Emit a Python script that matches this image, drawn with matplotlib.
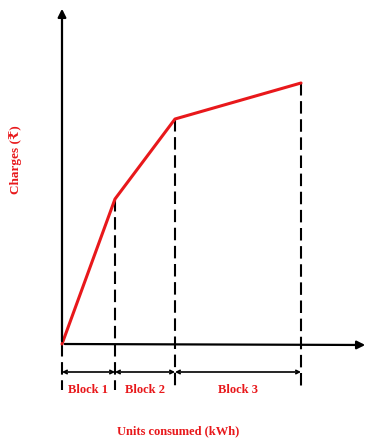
import matplotlib.pyplot as plt

# Break points of the block tariff (units consumed vs charges)
units = [0, 53, 113, 239]
charges = [0, 145, 225, 261]
blocks = ['Block 1', 'Block 2', 'Block 3']

red = '#e8181b'
font = ['Liberation Serif', 'DejaVu Serif']

fig = plt.figure(figsize=(3.7, 4.39), dpi=100)
ax = fig.add_axes([0, 0, 1, 1])
ax.set_xlim(-62, 308)
ax.set_ylim(-94, 345)
ax.axis('off')

# axes with arrow heads
ax.annotate('', xy=(0, 338), xytext=(0, 0),
            arrowprops=dict(arrowstyle='-|>', color='black', lw=1.6, mutation_scale=12))
ax.annotate('', xy=(306, -1), xytext=(0, 0),
            arrowprops=dict(arrowstyle='-|>', color='black', lw=1.6, mutation_scale=12))

# dashed drop lines
for u, c in zip(units, charges):
    ax.plot([u, u], [c, -46], color='black', lw=1.5, ls=(0, (6, 2.7)))

# the charges line
ax.plot(units, charges, color=red, lw=2.2, solid_capstyle='round')

# double arrows marking each block
for i, name in enumerate(blocks):
    a, b = units[i], units[i + 1]
    ax.annotate('', xy=(b, -28), xytext=(a, -28),
                arrowprops=dict(arrowstyle='<->', color='black', lw=1.2,
                                mutation_scale=6, shrinkA=0, shrinkB=0))
    ax.text((a + b) / 2, -45, name, color=red, ha='center', va='center',
            fontsize=9, fontweight='bold', family=font)

ax.text(116, -86, 'Units consumed (kWh)', color=red, ha='center', va='center',
        fontsize=9, fontweight='bold', family=font)
ax.text(-46, 185, 'Charges (₹)', color=red, ha='center', va='center',
        rotation=90, fontsize=9.5, fontweight='bold', family=font)

fig.savefig('out.png', dpi=100)
